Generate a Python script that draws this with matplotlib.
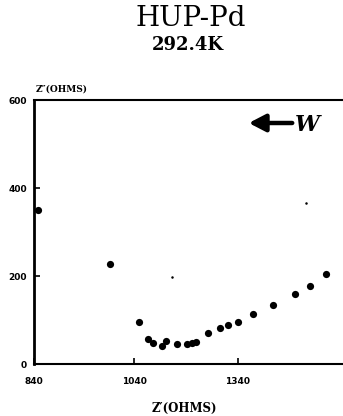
import matplotlib
matplotlib.use("Agg")
import matplotlib.pyplot as plt

# Data (Z' in ohms, Z'' in ohms)
z_real = [763, 971, 1054, 1079, 1096, 1120, 1132, 1163, 1192, 1206, 1220,
          1252, 1289, 1312, 1341, 1384, 1441, 1505, 1547, 1593]
z_imag = [350, 227, 96, 56, 48, 41, 52, 45, 45, 47, 49,
          71, 82, 89, 96, 113, 134, 158, 178, 204]
# stray small dots
small_real = [1149, 1535]
small_imag = [197, 365]

x_ticks = [751.5, 1040, 1340]
x_tick_labels = ["840", "1040", "1340"]
y_ticks = [0, 200, 400, 600]
y_tick_labels = ["0", "200", "400", "600"]

fig = plt.figure(figsize=(3.43, 4.16), dpi=100)
ax = fig.add_axes([34/343, 1 - 364/416, 309/343, 264/416])

ax.plot(z_real, z_imag, "o", color="black", markersize=5.2, markeredgewidth=0)
ax.plot(small_real, small_imag, "o", color="black", markersize=1.8, markeredgewidth=0)

ax.set_xlim(751.5, 1642.8)
ax.set_ylim(0, 600)
ax.set_xticks(x_ticks)
ax.set_xticklabels(x_tick_labels)
ax.set_yticks(y_ticks)
ax.set_yticklabels(y_tick_labels)
ax.tick_params(direction="in", length=4, width=1.2, labelsize=6.5)
ax.tick_params(axis="x", pad=9)
ax.tick_params(axis="y", pad=5)
for lab in ax.get_xticklabels() + ax.get_yticklabels():
    lab.set_fontweight("bold")
ax.spines["right"].set_visible(False)
ax.spines["left"].set_linewidth(2.0)
ax.spines["bottom"].set_linewidth(1.5)
ax.spines["top"].set_linewidth(1.5)

fig.text(191/343, 1 - 19/416, "HUP-Pd", ha="center", va="center",
         fontsize=20, family="DejaVu Serif")
fig.text(188/343, 1 - 45/416, "292.4K", ha="center", va="center",
         fontsize=13, fontweight="bold", family="DejaVu Serif")
fig.text(34/343 + 0.005, 1 - 89/416, "Z\u2033(OHMS)", ha="left", va="center",
         fontsize=6.5, fontweight="bold", family="DejaVu Serif")
fig.text(184/343, 1 - 408/416, "Z\u2032(OHMS)", ha="center", va="center",
         fontsize=8.5, fontweight="bold", family="DejaVu Serif")

# arrow with W (drawn in figure pixel fractions)
fig.patches.append(matplotlib.patches.FancyArrowPatch(
    (295/343, 1 - 123/416), (246/343, 1 - 123/416),
    transform=fig.transFigure, arrowstyle="-|>,head_length=5,head_width=2.6",
    mutation_scale=2, color="black", lw=3.2))
fig.text(295/343, 1 - 125/416, "W", ha="left", va="center", fontsize=16,
         fontweight="bold", fontstyle="italic", family="DejaVu Serif")

fig.savefig("out.png", dpi=100)
